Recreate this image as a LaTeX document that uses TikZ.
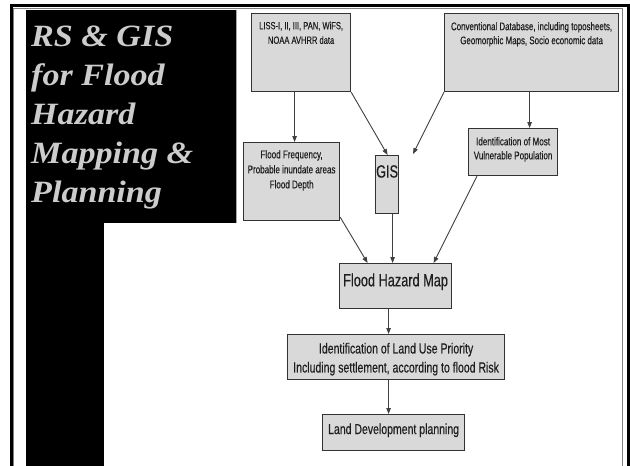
\documentclass[tikz,border=0pt]{standalone}
\usepackage{fontspec}
\setmainfont{Liberation Serif}
\newfontfamily\titlefont[FakeStretch=1.1]{Liberation Serif}
\newfontfamily\nar[FakeStretch=0.72,FakeBold=0.35]{Liberation Sans}
\usetikzlibrary{arrows.meta}
\definecolor{boxfill}{HTML}{D9D9D9}
\definecolor{boxline}{HTML}{333333}
\definecolor{txt}{HTML}{1E1E1E}
\definecolor{arrcol}{HTML}{404040}
\definecolor{titlecol}{HTML}{CCCCCC}
\tikzset{
  box/.style={draw=boxline, line width=1.2pt, fill=boxfill, inner sep=0pt, anchor=north west},
  boxtext/.style={text=txt, align=center, inner sep=0pt, anchor=north},
  conn/.style={draw=arrcol, line width=0.9pt, -{Triangle[length=6pt,width=4.5pt]}},
}
\begin{document}
\begin{tikzpicture}[x=1pt,y=-1pt]
\useasboundingbox (0,0) rectangle (630,466);
\fill[white] (0,0) rectangle (630,466);
% frame
\draw[line width=3pt, black] (11.5,470) -- (11.5,5) -- (628.5,5) -- (628.5,470);
\draw[line width=0.7pt, gray] (13.6,470) -- (13.6,8.2) -- (622,8.2) -- (622,470);
% black panel
\fill[black] (26,10) rectangle (236,223);
\fill[black] (26,222) rectangle (104,470);
\draw[line width=0.6pt, gray!70] (236.3,10) -- (236.3,223);
% title
\node[anchor=north west, align=left, inner sep=0pt, text=titlecol,
      font=\titlefont\bfseries\itshape\fontsize{31}{39}\selectfont] (title) at (31,26) {RS \& GIS\\for Flood\\Hazard\\Mapping \&\\Planning};
% boxes
\node[box, minimum width=99pt, minimum height=78pt,
  label={[boxtext, font=\nar\fontsize{10.5}{14.5}\selectfont, yshift=-8.5pt]north:{LISS-I, II, III, PAN, WiFS,\\NOAA AVHRR data}}] (liss) at (251,13) {};
\node[box, minimum width=174pt, minimum height=78pt,
  label={[boxtext, font=\nar\fontsize{11}{14}\selectfont, yshift=-9pt]north:{Conventional Database, including toposheets,\\Geomorphic Maps, Socio economic data}}] (conv) at (444,13) {};
\node[box, minimum width=96pt, minimum height=78pt,
  label={[boxtext, font=\nar\fontsize{11.2}{15}\selectfont, yshift=-8pt]north:{Flood Frequency,\\Probable inundate areas\\Flood Depth}}] (ff) at (243,142) {};
\node[box, minimum width=23pt, minimum height=58pt,
  label={[boxtext, font=\nar\fontsize{17.7}{20}\selectfont, yshift=-10pt]north:{GIS}}] (gis) at (375,155) {};
\node[box, minimum width=89pt, minimum height=47pt,
  label={[boxtext, font=\nar\fontsize{11.2}{14}\selectfont, yshift=-9pt]north:{Identification of Most\\Vulnerable Population}}] (idm) at (468,128) {};
\node[box, minimum width=112pt, minimum height=45pt,
  label={[boxtext, font=\nar\fontsize{17.7}{20}\selectfont, yshift=-10.3pt]north:{Flood Hazard Map}}] (fhm) at (339,263) {};
\node[box, minimum width=217pt, minimum height=45pt,
  label={[boxtext, font=\nar\fontsize{14.6}{19}\selectfont, yshift=-8.7pt]north:{Identification of Land Use Priority\\Including settlement, according to flood Risk}}] (landuse) at (287,334) {};
\node[box, minimum width=142pt, minimum height=36pt,
  label={[boxtext, font=\nar\fontsize{14.6}{18}\selectfont, yshift=-9.3pt]north:{Land Development planning}}] (landdev) at (322,414) {};
% connectors
\coordinate (cgend) at (413,154);
\draw[conn] ([xshift=-6.5pt]liss.south) -- ([xshift=3pt]ff.north);
\draw[conn] (liss.south east) -- ([xshift=0.5pt]gis.north);
\draw[conn] (conv.south west) -- (cgend);
\draw[conn] ([xshift=-2pt]conv.south) -- ([xshift=16.5pt]idm.north);
\draw[conn] ([yshift=4pt]ff.south east) -- ([xshift=-28pt]fhm.north);
\draw[conn] ([xshift=5.5pt]gis.south) -- ([xshift=-3pt]fhm.north);
\draw[conn] ([xshift=9pt]idm.south west) -- ([xshift=38pt]fhm.north);
\draw[conn] ([xshift=-7pt]fhm.south) -- ([xshift=-7.5pt]landuse.north);
\draw[conn] ([xshift=-7.5pt]landuse.south) -- ([xshift=-5pt]landdev.north);
\end{tikzpicture}
\end{document}
